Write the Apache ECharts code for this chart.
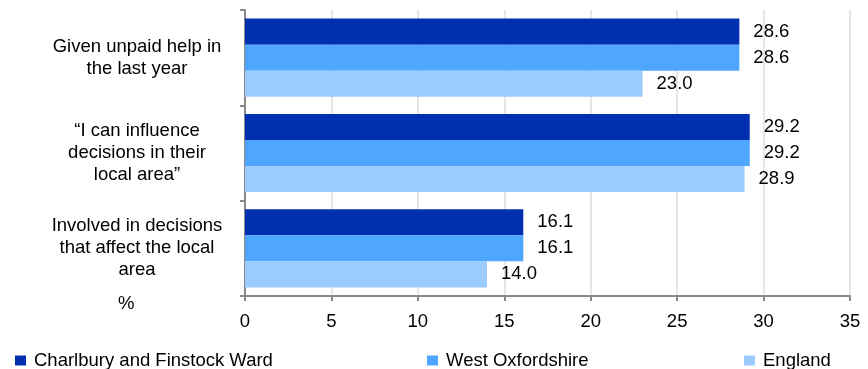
<!DOCTYPE html>
<html><head><meta charset="utf-8">
<script src="https://cdn.jsdelivr.net/npm/echarts@6/dist/echarts.min.js"></script>
<style>html,body{margin:0;padding:0;background:#fff}#c{width:868px;height:369px}</style>
</head><body><div id="c"></div>
<script>
const categories = ["Given unpaid help in\nthe last year", "\u201cI can influence\ndecisions in their\nlocal area\u201d", "Involved in decisions\nthat affect the local\narea"];
const seriesNames = ["Charlbury and Finstock Ward", "West Oxfordshire", "England"];
const charlbury = [28.6, 29.2, 16.1];
const westOx = [28.6, 29.2, 16.1];
const england = [23.0, 28.9, 14.0];
const xTicks = [0, 35, 5];
const colors = ["#0030b0", "#4ea6ff", "#9ccbff"];
const font = "Liberation Sans, Arial, sans-serif";
const FS = 18.5;

const chart = echarts.init(document.getElementById('c'));
const mk = (name, data, i) => ({
  name, type: 'bar', data, barGap: '0%', barCategoryGap: '18%',
  itemStyle: {color: colors[i]},
  label: {show: true, position: 'right', distance: 14, color: '#000', fontSize: FS, fontFamily: font,
    formatter: p => p.value.toFixed(1)},
  animation: false
});
const legendPos = [15, 427, 744];
chart.setOption({
  animation: false,
  textStyle: {fontFamily: font},
  grid: {left: 245, right: 18, top: 10, bottom: 73},
  legend: seriesNames.map((n, i) => ({
    data: [n], left: legendPos[i], top: 351, padding: 0, icon: 'rect', itemWidth: 11, itemHeight: 10,
    itemGap: 0, textStyle: {fontSize: FS, color: '#000', fontFamily: font, padding: [0, 0, 0, 3]}
  })),
  xAxis: {type: 'value', min: xTicks[0], max: xTicks[1], interval: xTicks[2],
    axisLine: {show: true, lineStyle: {color: '#888', width: 2}},
    axisTick: {show: true, length: 5, lineStyle: {color: '#888', width: 2}},
    axisLabel: {fontSize: FS, color: '#000', margin: 16, fontFamily: font},
    splitLine: {show: true, lineStyle: {color: '#e6e6e6', width: 2}}},
  yAxis: {type: 'category', data: categories, inverse: true,
    axisLine: {show: true, lineStyle: {color: '#888', width: 2}},
    axisTick: {show: true, length: 5, lineStyle: {color: '#888', width: 2}},
    axisLabel: {fontSize: FS, color: '#000', align: 'center', margin: 108, lineHeight: 22, fontFamily: font}},
  graphic: [{type: 'text', left: 118, top: 294, style: {text: '%', fontSize: FS, fill: '#000', fontFamily: font}}],
  series: [mk(seriesNames[0], charlbury, 0), mk(seriesNames[1], westOx, 1), mk(seriesNames[2], england, 2)]
});
</script></body></html>
